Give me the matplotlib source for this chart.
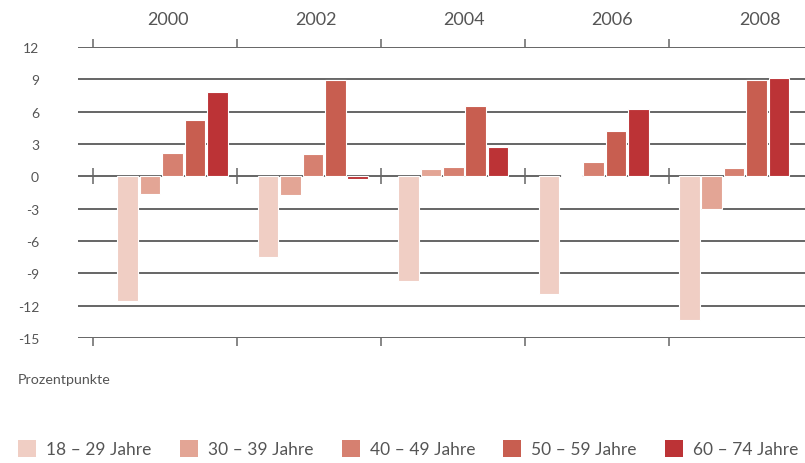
import matplotlib
matplotlib.use("Agg")
import matplotlib.pyplot as plt
from matplotlib.patches import Rectangle
import numpy as np

years = ["2000", "2002", "2004", "2006", "2008"]
series = ["18 – 29 Jahre", "30 – 39 Jahre", "40 – 49 Jahre", "50 – 59 Jahre", "60 – 74 Jahre"]
v18_29 = [-11.6, -7.5, -9.7, -10.95, -13.3]
v30_39 = [-1.6, -1.7, 0.7, 0.1, -3.0]
v40_49 = [2.2, 2.1, 0.85, 1.35, 0.75]
v50_59 = [5.2, 8.9, 6.5, 4.25, 8.95]
v60_74 = [7.8, -0.25, 2.75, 6.25, 9.1]
values = [v18_29, v30_39, v40_49, v50_59, v60_74]
colors = ["#F0CEC4", "#E3A595", "#D68070", "#C85E50", "#BC3336"]
yticks = [12, 9, 6, 3, 0, -3, -6, -9, -12, -15]

plt.rcParams['font.family'] = ['Lato', 'DejaVu Sans']

W, H = 805, 464
fig = plt.figure(figsize=(W / 100, H / 100), dpi=100)
ax = fig.add_axes([78 / W, 1 - 339 / H, (805 - 78) / W, (339 - 48) / H])

# horizontal layout (in units of bar-group spacing)
grp_px = 140.4
x0_px = 172.5
xl = ((78 - x0_px) / grp_px, (805 - x0_px) / grp_px)
ax.set_xlim(*xl)
ax.set_ylim(-15, 12)

x = np.arange(len(years))
step = 22.4 / grp_px
width = 20.6 / grp_px
for j, (vals, c) in enumerate(zip(values, colors)):
    ax.bar(x + (j - 2) * step, vals, width=width, color=c, edgecolor="white",
           linewidth=0.8, zorder=3)

# gridlines
ax.hlines(yticks, xl[0], xl[1], colors="#3c3c3c", linewidth=1.1, zorder=1)

# separator ticks
sep_px = 144.0
seps = [(93 - x0_px) / grp_px + k * sep_px / grp_px for k in range(5)]
px_per_unit = (339 - 48) / 27.0
tl = 8 / px_per_unit
ax.vlines(seps, 12, 12 + tl, colors="#666666", linewidth=1.1, clip_on=False, zorder=2)
ax.vlines(seps, -15 - tl, -15, colors="#666666", linewidth=1.1, clip_on=False, zorder=2)
ax.vlines(seps, -tl, tl, colors="#666666", linewidth=1.1, clip_on=False, zorder=2)

# year labels on top
lab_px = 148.0
for k, yr in enumerate(years):
    xp = (168 - x0_px) / grp_px + k * lab_px / grp_px
    ax.text(xp, 12 + (48 - 20) / px_per_unit, yr, ha="center", va="center",
            fontsize=13, color="#555555", clip_on=False)

ax.set_yticks(yticks)
ax.set_yticklabels([str(t) for t in yticks])
ax.tick_params(axis="y", length=0, pad=28, labelsize=10, labelcolor="#555555")
ax.set_xticks([])
for s in ax.spines.values():
    s.set_visible(False)

fig.text(18 / W, 1 - 380 / H, "Prozentpunkte", ha="left", va="center",
         fontsize=10.3, color="#555555")

# legend
leg_x = [18, 180, 342, 503, 665]
for lx, name, c in zip(leg_x, series, colors):
    fig.add_artist(Rectangle((lx / W, 1 - 458 / H), 18 / W, 17 / H,
                             transform=fig.transFigure, facecolor=c, edgecolor="none"))
    fig.text((lx + 28) / W, 1 - 450 / H, name, ha="left", va="center",
             fontsize=12.5, color="#555555")

fig.savefig("out.png", dpi=100)
